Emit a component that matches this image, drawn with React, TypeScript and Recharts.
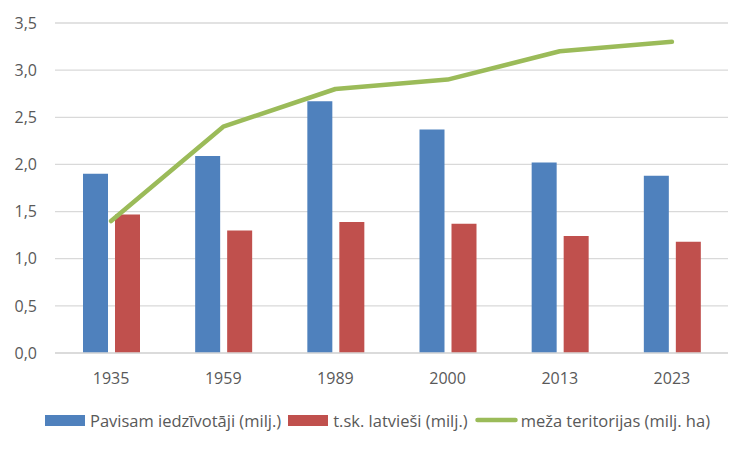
import React from 'react'
import { ComposedChart, Bar, Line, XAxis, YAxis, CartesianGrid, Legend } from 'recharts'

document.body.style.margin = '0'

const years = ['1935', '1959', '1989', '2000', '2013', '2023']
const total = [1.9, 2.09, 2.67, 2.37, 2.02, 1.88]
const latvians = [1.47, 1.3, 1.39, 1.37, 1.24, 1.18]
const forest = [1.4, 2.4, 2.8, 2.9, 3.2, 3.3]
const yTicks = [0, 0.5, 1, 1.5, 2, 2.5, 3, 3.5]
const seriesNames = ['Pavisam iedzīvotāji (milj.)', 't.sk. latvieši (milj.)', 'meža teritorijas (milj. ha)']

const data = years.map((year, i) => ({
  year,
  total: total[i],
  latvians: latvians[i],
  forest: forest[i],
}))

const FONT = "'Open Sans', sans-serif"
const TEXT = '#595959'

function ChartLegend({ payload }: any) {
  const items = [...(payload || [])].sort((a: any, b: any) => seriesNames.indexOf(a.value) - seriesNames.indexOf(b.value))
  return (
    <div style={{ height: 57, display: 'flex', alignItems: 'flex-start', paddingLeft: 45, paddingTop: 26, boxSizing: 'border-box' }}>
      {items.map((p: any) => (
        <div key={p.value} style={{ display: 'flex', alignItems: 'center', height: 22, marginRight: 7, fontFamily: FONT, fontSize: 16.5, color: TEXT }}>
          {p.type === 'plainline' ? (
            <svg width={43} height={10} style={{ marginRight: 3 }}>
              <line x1={2.5} y1={5} x2={40.5} y2={5} stroke={p.color} strokeWidth={4.5} strokeLinecap="round" />
            </svg>
          ) : (
            <span style={{ display: 'inline-block', width: 40, height: 11, background: p.color, marginRight: 5 }} />
          )}
          <span>{p.value}</span>
        </div>
      ))}
    </div>
  )
}

export default function App() {
  return (
    <ComposedChart
      width={751}
      height={450}
      data={data}
      margin={{ top: 23, right: 23, left: 0, bottom: 10 }}
      barSize={25}
      barGap={7}
    >
      <CartesianGrid vertical={false} stroke="#d9d9d9" strokeWidth={1.3} />
      <XAxis
        dataKey="year"
        axisLine={{ stroke: '#d9d9d9', strokeWidth: 1.3 }}
        tickLine={false}
        tickSize={0}
        tickMargin={20}
        height={30}
        tick={{ fill: TEXT, fontSize: 16, fontFamily: FONT }}
      />
      <YAxis
        domain={[0, 3.5]}
        ticks={yTicks}
        width={55}
        axisLine={false}
        tickLine={false}
        tickSize={0}
        tickMargin={18}
        tickFormatter={(v: number) => v.toFixed(1).replace('.', ',')}
        tick={{ fill: TEXT, fontSize: 16, fontFamily: FONT }}
      />
      <Legend verticalAlign="bottom" content={<ChartLegend />} />
      <Bar dataKey="total" name={seriesNames[0]} fill="#4f81bd" isAnimationActive={false} />
      <Bar dataKey="latvians" name={seriesNames[1]} fill="#c0504d" isAnimationActive={false} />
      <Line
        dataKey="forest"
        name={seriesNames[2]}
        type="linear"
        stroke="#9bbb59"
        strokeWidth={4.5}
        strokeLinecap="round"
        strokeLinejoin="round"
        dot={false}
        activeDot={false}
        legendType="plainline"
        isAnimationActive={false}
      />
    </ComposedChart>
  )
}
